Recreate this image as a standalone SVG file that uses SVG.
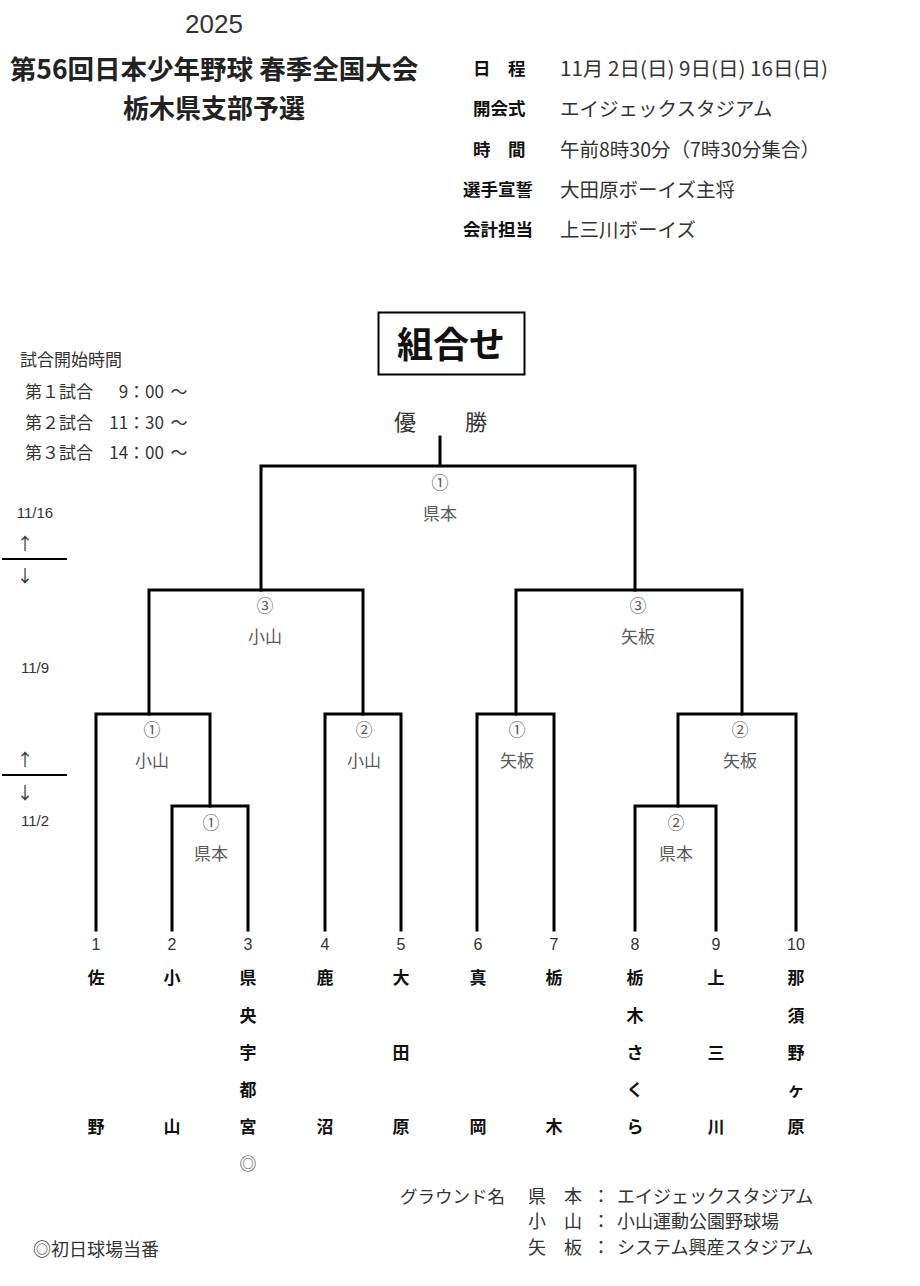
<svg xmlns="http://www.w3.org/2000/svg" width="920" height="1286" viewBox="0 0 920 1286">
<style>
text{font-family:"Noto Sans CJK JP","Noto Sans",sans-serif;dominant-baseline:central}
.t{fill:#222;font-weight:bold}
.lab{fill:#111;font-weight:bold;font-size:17.5px}
.val{fill:#333;font-size:19.5px}
.sm{fill:#333;font-size:17px}
.rd{fill:#5a5a5a;font-size:17px;text-anchor:middle}
.num{fill:#333;font-size:16px;text-anchor:middle;font-family:"Liberation Sans",sans-serif}
.tm{fill:#111;font-weight:bold;font-size:17px;text-anchor:middle}
.dt{fill:#333;font-size:15px;text-anchor:middle;font-family:"Liberation Sans",sans-serif}
.ar{fill:#333;font-size:17px;text-anchor:middle}
.br{fill:none;stroke:#000;stroke-width:3;stroke-linecap:square}
.ft{fill:#333;font-size:18px}
</style>
<rect width="920" height="1286" fill="#fff"/>
<g id="header">
<text x="214" y="24" text-anchor="middle" style="font-family:'Liberation Sans',sans-serif;font-size:26px;fill:#333">2025</text>
<text x="214" y="67" text-anchor="middle" class="t" style="font-size:26.5px">第56回日本少年野球 春季全国大会</text>
<text x="214" y="106" text-anchor="middle" class="t" style="font-size:26px">栃木県支部予選</text>
</g>
<g id="info">
<text x="473" y="67" class="lab">日　程</text>
<text x="560" y="67" class="val" textLength="268" lengthAdjust="spacingAndGlyphs">11月 2日(日) 9日(日) 16日(日)</text>
<text x="473" y="107" class="lab">開会式</text>
<text x="560" y="107" class="val">エイジェックスタジアム</text>
<text x="473" y="148" class="lab">時　間</text>
<text x="560" y="148" class="val">午前8時30分（7時30分集合）</text>
<text x="463" y="188" class="lab">選手宣誓</text>
<text x="560" y="188" class="val">大田原ボーイズ主将</text>
<text x="463" y="228" class="lab">会計担当</text>
<text x="560" y="228" class="val">上三川ボーイズ</text>
</g>
<g id="title-box">
<rect x="378.5" y="312.5" width="146" height="62" fill="none" stroke="#000" stroke-width="2"/>
<text x="451" y="342" text-anchor="middle" style="font-size:36px;font-weight:bold;fill:#111">組合せ</text>
</g>
<g id="times">
<text x="20" y="358" class="sm">試合開始時間</text>
<text x="25" y="390" class="sm">第１試合</text>
<text x="164" y="390" class="sm" text-anchor="end">9：00</text>
<text x="179" y="390" class="sm" text-anchor="middle">～</text>
<text x="25" y="421" class="sm">第２試合</text>
<text x="164" y="421" class="sm" text-anchor="end">11：30</text>
<text x="179" y="421" class="sm" text-anchor="middle">～</text>
<text x="25" y="451" class="sm">第３試合</text>
<text x="164" y="451" class="sm" text-anchor="end">14：00</text>
<text x="179" y="451" class="sm" text-anchor="middle">～</text>
</g>
<g id="champion">
<text x="405" y="420" text-anchor="middle" style="font-size:22px;fill:#333">優</text>
<text x="476" y="420" text-anchor="middle" style="font-size:22px;fill:#333">勝</text>
</g>
<g id="dates">
<text x="35" y="512" class="dt">11/16</text>
<text x="25" y="542" class="ar">↑</text>
<line x1="2" y1="559" x2="67" y2="559" stroke="#000" stroke-width="2"/>
<text x="25" y="574" class="ar">↓</text>
<text x="35" y="667" class="dt">11/9</text>
<text x="25" y="758" class="ar">↑</text>
<line x1="2" y1="775" x2="67" y2="775" stroke="#000" stroke-width="2"/>
<text x="25" y="791" class="ar">↓</text>
<text x="35" y="820" class="dt">11/2</text>
</g>
<g id="connectors">
<path class="br" d="M440 437V466M261 590V466H635V590"/>
<path class="br" d="M149 714V590H363V714"/>
<path class="br" d="M516 714V590H742V714"/>
<path class="br" d="M96 930V714H210V806"/>
<path class="br" d="M172 930V806H248V930"/>
<path class="br" d="M325 930V714H401V930"/>
<path class="br" d="M477 930V714H554V930"/>
<path class="br" d="M796 930V714H678V806"/>
<path class="br" d="M635 930V806H716V930"/>
</g>
<g id="results">
<text x="440" y="481" class="rd">①</text><text x="440" y="512" class="rd">県本</text>
<text x="265" y="604" class="rd">③</text><text x="265" y="635" class="rd">小山</text>
<text x="638" y="604" class="rd">③</text><text x="638" y="635" class="rd">矢板</text>
<text x="152" y="728" class="rd">①</text><text x="152" y="759" class="rd">小山</text>
<text x="364" y="728" class="rd">②</text><text x="364" y="759" class="rd">小山</text>
<text x="517" y="728" class="rd">①</text><text x="517" y="759" class="rd">矢板</text>
<text x="740" y="728" class="rd">②</text><text x="740" y="759" class="rd">矢板</text>
<text x="211" y="821" class="rd">①</text><text x="211" y="852" class="rd">県本</text>
<text x="676" y="821" class="rd">②</text><text x="676" y="852" class="rd">県本</text>
</g>
<g id="team1"><text x="96" y="944" class="num">1</text><text x="96" y="976" class="tm">佐</text><text x="96" y="1125" class="tm">野</text></g>
<g id="team2"><text x="172" y="944" class="num">2</text><text x="172" y="976" class="tm">小</text><text x="172" y="1125" class="tm">山</text></g>
<g id="team3"><text x="248" y="944" class="num">3</text><text x="248" y="976" class="tm">県</text><text x="248" y="1014" class="tm">央</text><text x="248" y="1051" class="tm">宇</text><text x="248" y="1088" class="tm">都</text><text x="248" y="1125" class="tm">宮</text><text x="248" y="1162" class="rd" style="fill:#444">◎</text></g>
<g id="team4"><text x="325" y="944" class="num">4</text><text x="325" y="976" class="tm">鹿</text><text x="325" y="1125" class="tm">沼</text></g>
<g id="team5"><text x="401" y="944" class="num">5</text><text x="401" y="976" class="tm">大</text><text x="401" y="1051" class="tm">田</text><text x="401" y="1125" class="tm">原</text></g>
<g id="team6"><text x="478" y="944" class="num">6</text><text x="478" y="976" class="tm">真</text><text x="478" y="1125" class="tm">岡</text></g>
<g id="team7"><text x="554" y="944" class="num">7</text><text x="554" y="976" class="tm">栃</text><text x="554" y="1125" class="tm">木</text></g>
<g id="team8"><text x="635" y="944" class="num">8</text><text x="635" y="976" class="tm">栃</text><text x="635" y="1014" class="tm">木</text><text x="635" y="1051" class="tm">さ</text><text x="635" y="1088" class="tm">く</text><text x="635" y="1125" class="tm">ら</text></g>
<g id="team9"><text x="716" y="944" class="num">9</text><text x="716" y="976" class="tm">上</text><text x="716" y="1051" class="tm">三</text><text x="716" y="1125" class="tm">川</text></g>
<g id="team10"><text x="796" y="944" class="num">10</text><text x="796" y="976" class="tm">那</text><text x="796" y="1014" class="tm">須</text><text x="796" y="1051" class="tm">野</text><text x="796" y="1088" class="tm">ヶ</text><text x="796" y="1125" class="tm">原</text></g>
<g id="footer">
<text x="400" y="1195" class="ft" style="font-size:17.5px">グラウンド名</text>
<text x="528" y="1195" class="ft">県　本</text>
<text x="528" y="1220" class="ft">小　山</text>
<text x="528" y="1246" class="ft">矢　板</text>
<text x="592" y="1195" class="ft">：</text>
<text x="592" y="1220" class="ft">：</text>
<text x="592" y="1246" class="ft">：</text>
<text x="617" y="1195" class="ft">エイジェックスタジアム</text>
<text x="617" y="1220" class="ft">小山運動公園野球場</text>
<text x="617" y="1246" class="ft">システム興産スタジアム</text>
<text x="33" y="1248" class="ft">◎初日球場当番</text>
</g>
</svg>
